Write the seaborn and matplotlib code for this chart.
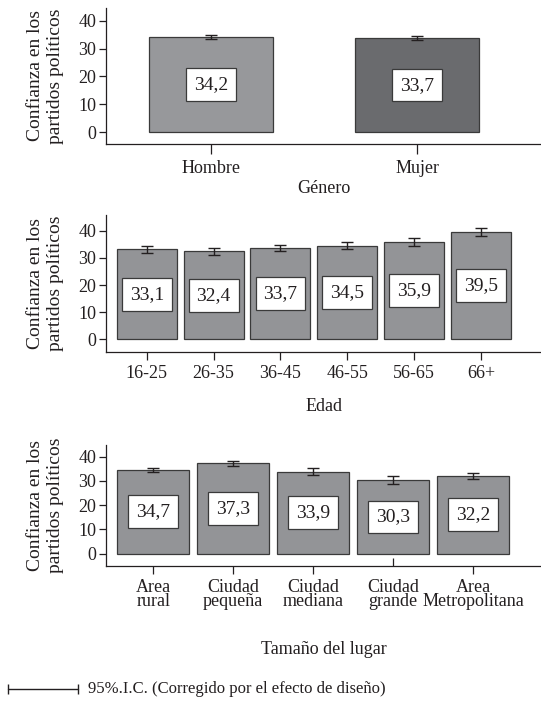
import numpy as np
import pandas as pd
import seaborn as sns
import matplotlib.pyplot as plt

sns.set_style('ticks')
plt.rcParams['font.family'] = ['Liberation Serif', 'DejaVu Serif']

genero = ['Hombre', 'Mujer']
genero_val = [34.2, 33.7]
genero_ic = [0.6, 0.75]

edad = ['16-25', '26-35', '36-45', '46-55', '56-65', '66+']
edad_val = [33.1, 32.4, 33.7, 34.5, 35.9, 39.5]
edad_ic = [1.2, 1.2, 1.2, 1.3, 1.5, 1.6]

lugar = ['Area\nrural', 'Ciudad\npequeña', 'Ciudad\nmediana', 'Ciudad\ngrande', 'Area\nMetropolitana']
lugar_val = [34.7, 37.3, 33.9, 30.3, 32.2]
lugar_ic = [0.8, 1.1, 1.4, 1.6, 1.2]

ylabel = 'Confianza en los\npartidos políticos'
txt = '#231f20'

fig = plt.figure(figsize=(5.41, 7.05), dpi=100)


def panel(rect, cats, vals, ic, colors, width, xlim, ylim, xlabel, xlabel_pad, xlen, xpad):
    ax = fig.add_axes(rect)
    df = pd.DataFrame({'cat': cats, 'val': vals})
    sns.barplot(data=df, x='cat', y='val', hue='cat', palette=colors, legend=False,
                width=width, edgecolor='#3a3a3a', linewidth=0.9, saturation=1, ax=ax)
    x = np.arange(len(cats))
    ax.errorbar(x, vals, yerr=ic, fmt='none', ecolor='#231f20', elinewidth=1,
                capsize=4, capthick=1)
    for i, v in enumerate(vals):
        ax.text(i, v / 2, f'{v:.1f}'.replace('.', ','), ha='center', va='center',
                fontsize=14, color=txt,
                bbox=dict(boxstyle='square,pad=0.4', fc='white', ec='#3a3a3a', lw=0.9))
    ax.set_xlim(*xlim)
    ax.set_ylim(*ylim)
    ax.set_yticks([0, 10, 20, 30, 40])
    ax.set_ylabel(ylabel, fontsize=14, color=txt, linespacing=1.25, labelpad=10)
    ax.set_xlabel(xlabel, fontsize=13, color=txt, labelpad=xlabel_pad)
    ax.tick_params(axis='both', colors=txt, labelsize=13, width=0.9)
    ax.tick_params(axis='x', length=xlen, pad=xpad)
    ax.tick_params(axis='y', length=5, pad=2)
    for s in ['top', 'right']:
        ax.spines[s].set_visible(False)
    for s in ['left', 'bottom']:
        ax.spines[s].set_color('#231f20')
        ax.spines[s].set_linewidth(0.9)
    return ax


ax1 = panel([0.196, 0.7957, 0.804, 0.193], genero, genero_val, genero_ic,
            ['#97989b', '#6a6b6e'], 0.6, (-0.51, 1.6), (-4.3, 44.6), 'Género', 2, 7, 4.5)
ax2 = panel([0.196, 0.5007, 0.804, 0.1943], edad, edad_val, edad_ic,
            ['#939497'] * 6, 0.9, (-0.61, 5.9), (-4.7, 45.8), 'Edad', 12, 6, 3)
ax3 = panel([0.196, 0.197, 0.804, 0.1716], lugar, lugar_val, lugar_ic,
            ['#939497'] * 5, 0.9, (-0.59, 4.85), (-5.2, 44.8), 'Tamaño del lugar', 22, 6, 3)
for lbl in ax3.get_xticklabels():
    lbl.set_linespacing(0.82)
# en el original la marca de "Ciudad grande" apunta hacia dentro
ax3.xaxis.get_major_ticks()[3].tick1line.set_marker(2)

# leyenda del intervalo de confianza
fig.add_artist(plt.Line2D([0.015, 0.144], [0.023, 0.023], color=txt, lw=1,
                          marker='|', markersize=7, markevery=[0, 1]))
fig.text(0.163, 0.023, '95%.I.C. (Corregido por el efecto de diseño)', fontsize=12,
         color=txt, va='center')

fig.savefig('out.png', dpi=100)
